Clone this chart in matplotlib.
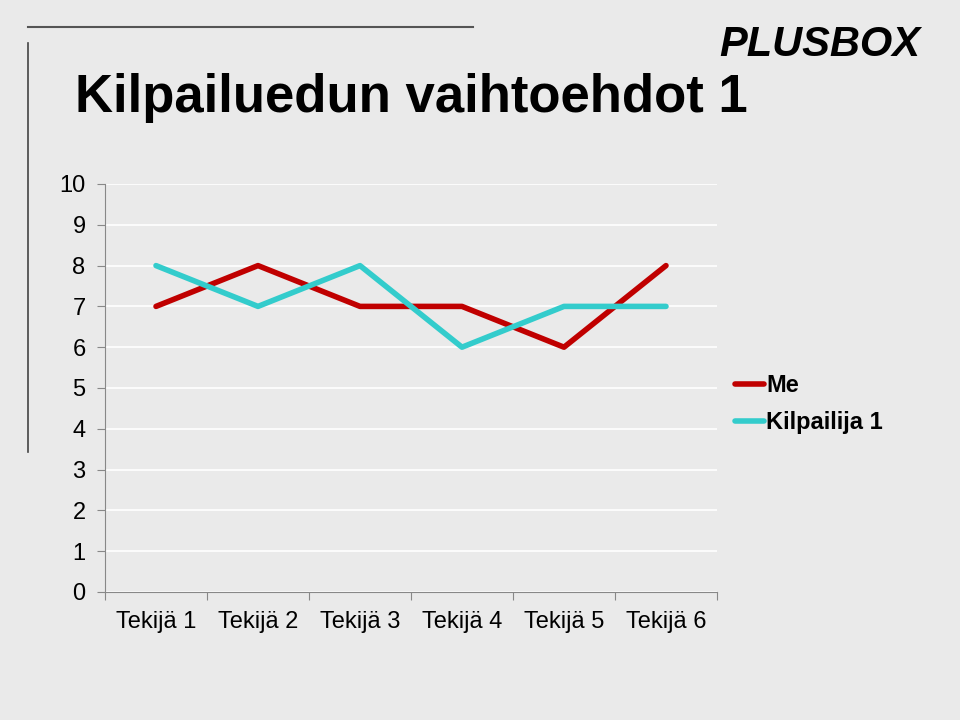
import matplotlib.pyplot as plt
from matplotlib.lines import Line2D

# data
categories = ["Tekijä 1", "Tekijä 2", "Tekijä 3", "Tekijä 4", "Tekijä 5", "Tekijä 6"]
me = [7, 8, 7, 7, 6, 8]
kilpailija = [8, 7, 8, 6, 7, 7]
series_names = ["Me", "Kilpailija 1"]

plt.rcParams['font.family'] = ['Liberation Sans', 'DejaVu Sans']

bg = "#EAEAEA"
fig = plt.figure(figsize=(9.6, 7.2), dpi=100, facecolor=bg)

# decorative slide lines
fig.add_artist(Line2D([28/960, 473/960], [1 - 27/720, 1 - 27/720], color="#555555", lw=1.5))
fig.add_artist(Line2D([28/960, 28/960], [1 - 43/720, 1 - 452/720], color="#444444", lw=1.2))

fig.text(920/960, 1 - 45/720, "PLUSBOX", fontsize=30, fontweight="bold", style="italic",
         ha="right", va="center")
fig.text(75/960, 1 - 98/720, "Kilpailuedun vaihtoehdot 1", fontsize=38, fontweight="bold",
         ha="left", va="center")

ax = fig.add_axes([105/960, 1 - 592/720, 612/960, 408/720])
ax.set_facecolor(bg)

x = list(range(len(categories)))
ax.plot(x, me, color="#C00000", lw=4, solid_capstyle="round", label=series_names[0], zorder=3)
ax.plot(x, kilpailija, color="#33CCCC", lw=4, solid_capstyle="round", label=series_names[1], zorder=3)

ax.set_xlim(-0.5, len(categories) - 0.5)
ax.set_ylim(0, 10)
ax.set_yticks(range(0, 11))
ax.yaxis.grid(True, color="white", lw=1.2)
ax.set_axisbelow(True)

ax.set_xticks([i - 0.5 for i in range(len(categories) + 1)])
ax.set_xticklabels([])
ax.set_xticks(x, minor=True)
ax.set_xticklabels(categories, minor=True, fontsize=17)
ax.tick_params(axis="x", which="minor", length=0, pad=14)
ax.tick_params(axis="x", which="major", length=6, color="#888888", direction="out")
ax.tick_params(axis="y", length=6, color="#888888", labelsize=17, pad=8)

for s in ["top", "right"]:
    ax.spines[s].set_visible(False)
for s in ["left", "bottom"]:
    ax.spines[s].set_color("#888888")

leg = ax.legend(loc="center left", bbox_to_anchor=(1.03, 0.46), frameon=False,
                fontsize=17, handlelength=1.2, handletextpad=0.1, labelspacing=0.6,
                borderpad=0, borderaxespad=0)
for t in leg.get_texts():
    t.set_fontweight("bold")

fig.savefig("out.png", dpi=100, facecolor=bg)
